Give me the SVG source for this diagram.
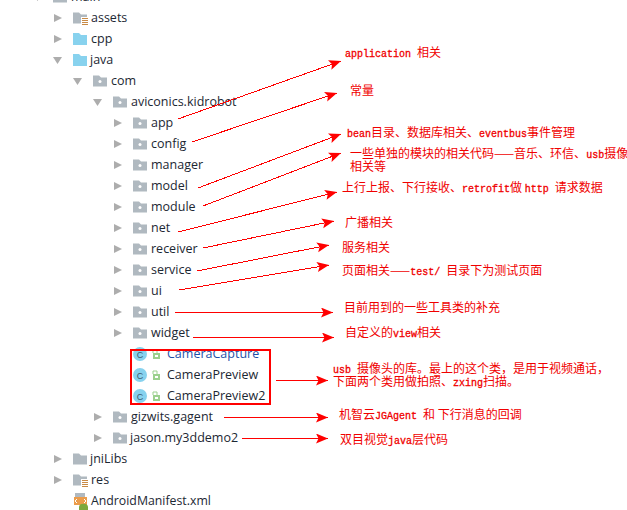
<svg xmlns="http://www.w3.org/2000/svg" width="627" height="510" viewBox="0 0 627 510">
<style>
.t{font-family:"Open Sans","Noto Sans",sans-serif;font-size:12.5px;fill:#1c2733}
.r{font-family:"Noto Sans CJK SC",sans-serif;font-size:12px;fill:#f00000}
.l{font-family:"Liberation Mono",monospace;font-size:10px;font-weight:400;stroke:#f00000;stroke-width:0.3px}
.c{stroke:#f00;stroke-width:1;fill:none;marker-end:url(#ah);shape-rendering:crispEdges}
</style>
<defs>
<marker id="ah" markerUnits="userSpaceOnUse" markerWidth="14" markerHeight="12" refX="12" refY="5" orient="auto"><path d="M0 0L12 5L0 10L2.500 5Z" fill="#f00"/></marker>
<path id="ar" d="M0 -4L8 0L0 4Z" fill="#adadad"/>
<path id="ad" d="M0 0H9L4.500 7Z" fill="#adadad"/>
<path id="fp" d="M0 -5.500H6L8 -3.500H14V5.500H0Z" fill="#b0b9c0"/>
<g id="pk"><use href="#fp"/><circle cx="7" cy="0.500" r="1.500" fill="#fff"/></g>
<path id="fb" d="M0 -6H6L8 -4H14V6H0Z" fill="#88d2ee"/>
<g id="fr"><use href="#fp"/><rect x="8" y="-1" width="8" height="8" fill="#fff"/><path d="M9 0.500h6M9 2.500h6M9 4.500h6M9 6.500h6" stroke="#c98a45"/></g>
<g id="cl"><circle r="7" fill="#87d2ee"/><text x="0" y="3.500" text-anchor="middle" style="font-family:'Liberation Sans',sans-serif;font-size:9px;fill:#3c5a6e">C</text><path d="M13 -1h7v6h-7z" fill="#9bd08e"/><path d="M13 -1v-3h4v3" stroke="#9bd08e" fill="none"/><rect x="15" y="1" width="3" height="2" fill="#fff"/></g>
</defs>
<rect width="627" height="510" fill="#fff"/>
<g id="tree">
<g id="n-main"><use href="#ad" x="33" y="-6"/><use href="#fp" x="53" y="-3"/><text class="t" x="71" y="1">main</text></g>
<g id="n-assets"><use href="#ar" x="54" y="18"/><use href="#fr" x="73" y="18"/><text class="t" x="91" y="22">assets</text></g>
<g id="n-cpp"><use href="#ar" x="54" y="39"/><use href="#fb" x="73" y="39"/><text class="t" x="91" y="43">cpp</text></g>
<g id="n-java"><use href="#ad" x="53" y="57"/><use href="#fb" x="73" y="60"/><text class="t" x="90" y="64">java</text></g>
<g id="n-com"><use href="#ad" x="73" y="78"/><use href="#pk" x="93" y="81"/><text class="t" x="111" y="85">com</text></g>
<g id="n-kidrobot"><use href="#ad" x="93" y="99"/><use href="#pk" x="113" y="102"/><text class="t" x="131" y="106">aviconics.kidrobot</text></g>
<g id="n-app"><use href="#ar" x="114" y="123"/><use href="#pk" x="133" y="123"/><text class="t" x="151" y="127">app</text></g>
<g id="n-config"><use href="#ar" x="114" y="144"/><use href="#pk" x="133" y="144"/><text class="t" x="151" y="148">config</text></g>
<g id="n-manager"><use href="#ar" x="114" y="165"/><use href="#pk" x="133" y="165"/><text class="t" x="151" y="169">manager</text></g>
<g id="n-model"><use href="#ar" x="114" y="186"/><use href="#pk" x="133" y="186"/><text class="t" x="151" y="190">model</text></g>
<g id="n-module"><use href="#ar" x="114" y="207"/><use href="#pk" x="133" y="207"/><text class="t" x="151" y="211">module</text></g>
<g id="n-net"><use href="#ar" x="114" y="228"/><use href="#pk" x="133" y="228"/><text class="t" x="151" y="232">net</text></g>
<g id="n-receiver"><use href="#ar" x="114" y="249"/><use href="#pk" x="133" y="249"/><text class="t" x="151" y="253">receiver</text></g>
<g id="n-service"><use href="#ar" x="114" y="270"/><use href="#pk" x="133" y="270"/><text class="t" x="151" y="274">service</text></g>
<g id="n-ui"><use href="#ar" x="114" y="291"/><use href="#pk" x="133" y="291"/><text class="t" x="151" y="295">ui</text></g>
<g id="n-util"><use href="#ar" x="114" y="312"/><use href="#pk" x="133" y="312"/><text class="t" x="151" y="316">util</text></g>
<g id="n-widget"><use href="#ar" x="114" y="333"/><use href="#pk" x="133" y="333"/><text class="t" x="151" y="337">widget</text></g>
<g id="n-cameracapture"><use href="#cl" x="140" y="354"/><text class="t" x="167" y="358" style="fill:#1f4fa8">CameraCapture</text></g>
<g id="n-camerapreview"><use href="#cl" x="140" y="375"/><text class="t" x="167" y="379">CameraPreview</text></g>
<g id="n-camerapreview2"><use href="#cl" x="140" y="396"/><text class="t" x="167" y="400">CameraPreview2</text></g>
<g id="n-gizwits"><use href="#ar" x="94" y="417"/><use href="#pk" x="113" y="417"/><text class="t" x="131" y="421">gizwits.gagent</text></g>
<g id="n-jason"><use href="#ar" x="94" y="438"/><use href="#pk" x="113" y="438"/><text class="t" x="130" y="442">jason.my3ddemo2</text></g>
<g id="n-jnilibs"><use href="#ar" x="54" y="459"/><use href="#fp" x="73" y="459"/><text class="t" x="90" y="463">jniLibs</text></g>
<g id="n-res"><use href="#ar" x="54" y="480"/><use href="#fr" x="73" y="480"/><text class="t" x="91" y="484">res</text></g>
<g id="n-manifest"><rect x="75" y="493" width="10" height="5" fill="#b0b9c0"/><rect x="74" y="497" width="13" height="8" fill="#eb9c4b"/><path d="M77 499l-2 2 2 2M84 499l2 2-2 2" stroke="#fff" fill="none"/><path d="M79 510v-3a4 3 0 0 1 9 0v3Z" fill="#7da83d"/><text class="t" x="91" y="505" style="font-size:12.3px">AndroidManifest.xml</text></g>
</g>
<rect id="box" x="131" y="350" width="139" height="54" fill="none" stroke="#f00" stroke-width="2"/>
<g id="connectors">
<path class="c" d="M178 119L341 61"/>
<path class="c" d="M192 142L337 93"/>
<path class="c" d="M198 188L341 134"/>
<path class="c" d="M203 206L341 153"/>
<path class="c" d="M178 232L337 192"/>
<path class="c" d="M203 248L334 221"/>
<path class="c" d="M197 271L329 245"/>
<path class="c" d="M179 290L329 265"/>
<path class="c" d="M175 312.500H333"/>
<path class="c" d="M193 337.500H334"/>
<path class="c" d="M276 380.500H328"/>
<path class="c" d="M224 417.500H328"/>
<path class="c" d="M242 438.500H328"/>
</g>
<g id="labels">
<g id="a-app"><text class="r" x="345" y="57"><tspan class="l">application </tspan>相关</text></g>
<g id="a-config"><text class="r" x="350" y="95">常量</text></g>
<g id="a-model"><text class="r" x="347" y="137"><tspan class="l">bean</tspan>目录、数据库相关、<tspan class="l">eventbus</tspan>事件管理</text></g>
<g id="a-module"><text class="r" x="350" y="158">一些单独的模块的相关代码——音乐、环信、<tspan class="l">usb</tspan>摄像</text><text class="r" x="350" y="171">相关等</text></g>
<g id="a-net"><text class="r" x="342" y="192">上行上报、下行接收、<tspan class="l">retrofit</tspan>做 <tspan class="l">http </tspan>请求数据</text></g>
<g id="a-receiver"><text class="r" x="345" y="227">广播相关</text></g>
<g id="a-service"><text class="r" x="342" y="252">服务相关</text></g>
<g id="a-ui"><text class="r" x="342" y="275">页面相关——<tspan class="l">test/ </tspan>目录下为测试页面</text></g>
<g id="a-util"><text class="r" x="344" y="312">目前用到的一些工具类的补充</text></g>
<g id="a-widget"><text class="r" x="345" y="337">自定义的<tspan class="l">view</tspan>相关</text></g>
<g id="a-camera"><text class="r" x="333" y="373"><tspan class="l">usb </tspan>摄像头的库。最上的这个类，是用于视频通话，</text><text class="r" x="333" y="386">下面两个类用做拍照、<tspan class="l">zxing</tspan>扫描。</text></g>
<g id="a-gizwits"><text class="r" x="339" y="419">机智云<tspan class="l">JGAgent </tspan>和 下行消息的回调</text></g>
<g id="a-jason"><text class="r" x="340" y="444">双目视觉<tspan class="l">java</tspan>层代码</text></g>
</g>
</svg>
